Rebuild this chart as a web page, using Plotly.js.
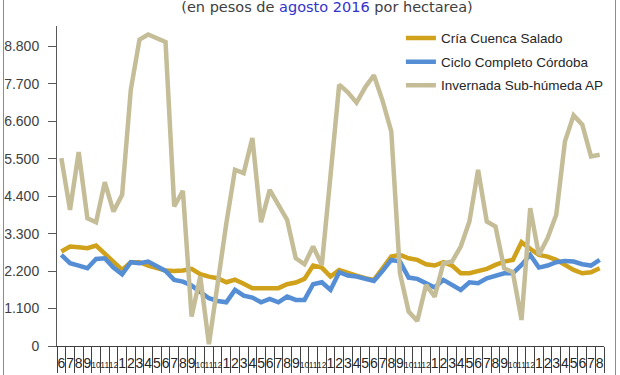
<!DOCTYPE html>
<html>
<head>
<meta charset="utf-8">
<script src="https://cdn.plot.ly/plotly-3.0.1.min.js"></script>
<style>
  html, body { margin: 0; padding: 0; background: #fff; overflow: hidden; }
  #chart { width: 620px; height: 375px; }
  #frame { position: absolute; left: 3px; top: -5px; width: 611px; height: 400px;
           border: 1px solid #8c8c8c; pointer-events: none; }
</style>
</head>
<body>
<div id="chart"></div>
<div id="frame"></div>
<script>
// Month labels (June 2011 .. August 2016)
const monthLabels = [
  "6","7","8","9","10","11","12",
  "1","2","3","4","5","6","7","8","9","10","11","12",
  "1","2","3","4","5","6","7","8","9","10","11","12",
  "1","2","3","4","5","6","7","8","9","10","11","12",
  "1","2","3","4","5","6","7","8","9","10","11","12",
  "1","2","3","4","5","6","7","8"
];

const criaCuencaSalado = [
  2775, 2922, 2902, 2873, 2951, 2700, 2480, 2235, 2461, 2461,
  2363, 2304, 2216, 2206, 2216, 2265, 2108, 2039, 1990, 1873,
  1950, 1830, 1700, 1700, 1716, 1700, 1814, 1863, 1971, 2363,
  2304, 2039, 2235, 2137, 2069, 1990, 1941, 2284, 2627, 2676,
  2578, 2529, 2402, 2363, 2461, 2363, 2137, 2137, 2186, 2265,
  2382, 2480, 2529, 3049, 2853, 2676, 2627, 2529, 2382, 2235,
  2137, 2167, 2284
];

const cicloCompletoCordoba = [
  2676, 2431, 2363, 2284, 2559, 2578, 2304, 2108, 2461, 2431,
  2480, 2333, 2206, 1941, 1892, 1775, 1598, 1402, 1324, 1284,
  1647, 1480, 1422, 1284, 1382, 1284, 1451, 1353, 1353, 1814,
  1873, 1647, 2167, 2069, 2039, 1990, 1912, 2206, 2529, 2480,
  2010, 1971, 1843, 1720, 1941, 1794, 1647, 1873, 1843, 1990,
  2069, 2137, 2137, 2382, 2676, 2304, 2363, 2461, 2500, 2480,
  2402, 2363, 2529
];

const invernadaSubhumedaAP = [
  5520, 4000, 5696, 3755, 3637, 4814, 3951, 4441, 7529, 9000,
  9150, 9049, 8931, 4098, 4559,  863, 2039,   50, 1850, 3600,
  5177, 5078, 6108, 3637, 4588, 4147, 3706, 2578, 2402, 2922,
  2382, 5000, 7676, 7450, 7150, 7600, 7951, 7200, 6304, 2137,
  1010,  735, 1794, 1451, 2431, 2480, 2922, 3657, 5177, 3657,
  3510, 2284, 2167,  765, 4049, 2676, 3167, 3853, 6010, 6775,
  6500, 5569, 5618
];

const yTickVals = [0, 1100, 2200, 3300, 4400, 5500, 6600, 7700, 8800];
const yTickText = ["0", "1.100", "2.200", "3.300", "4.400", "5.500", "6.600", "7.700", "8.800"];

const seriesNames = ["Cría Cuenca Salado", "Ciclo Completo Córdoba", "Invernada Sub-húmeda AP"];
const seriesColors = ["#D0A11A", "#558ED5", "#C4BD97"];

const idx = monthLabels.map((_, i) => i);
const boundaries = monthLabels.map((_, i) => i - 0.5).concat([monthLabels.length - 0.5]);
// two-digit month labels drawn smaller so they fit inside their cell
const xTickText = monthLabels.map(s => s.length > 1 ? "<span style='font-size:8.5px'>" + s + "</span>" : s);

const narrow = "'Liberation Sans Narrow', 'Liberation Sans', Arial, sans-serif";

const traces = [criaCuencaSalado, cicloCompletoCordoba, invernadaSubhumedaAP].map((vals, k) => ({
  type: "scatter",
  mode: "lines",
  x: idx,
  y: vals,
  name: seriesNames[k],
  legendgroup: "g" + k,
  line: { color: seriesColors[k], width: 4.5, shape: "linear" },
  hoverinfo: "skip"
}));

const layout = {
  width: 620,
  height: 375,
  paper_bgcolor: "#ffffff",
  plot_bgcolor: "#ffffff",
  margin: { l: 56.6, r: 14.6, t: 26.4, b: 29 },
  showlegend: true,
  title: {
    text: "(en pesos de <span style='color:#3333CC'>agosto 2016</span> por hectarea)",
    font: { family: "'DejaVu Sans', Verdana, sans-serif", size: 14.5, color: "#404040" },
    x: 327 / 620, xanchor: "center", xref: "container",
    y: 1 - 6.5 / 375, yanchor: "middle", yref: "container"
  },
  legend: {
    x: 0.6276, xanchor: "left",
    y: 1.01, yanchor: "top",
    bgcolor: "rgba(255,255,255,0)",
    font: { family: narrow, size: 13.5, color: "#262626" },
    traceorder: "grouped",
    tracegroupgap: 3
  },
  xaxis: {
    range: [-0.5, monthLabels.length - 0.5],
    tickmode: "array",
    tickvals: idx,
    ticktext: xTickText,
    tickangle: 0,
    ticks: "",
    showgrid: false,
    zeroline: false,
    showline: true,
    linecolor: "#404040",
    linewidth: 1,
    tickfont: { family: narrow, size: 14, color: "#262626" },
    ticklabelstandoff: 4,
    minor: {
      tickmode: "array",
      tickvals: boundaries,
      ticks: "outside",
      ticklen: 26,
      tickwidth: 1,
      tickcolor: "#404040",
      showgrid: false
    },
    fixedrange: true
  },
  yaxis: {
    range: [0, 9400],
    tickmode: "array",
    tickvals: yTickVals,
    ticktext: yTickText,
    ticks: "outside",
    ticklen: 8,
    tickwidth: 1,
    tickcolor: "#595959",
    showline: true,
    linecolor: "#595959",
    linewidth: 1,
    showgrid: false,
    zeroline: false,
    tickfont: { family: narrow, size: 14, color: "#404040" },
    ticklabelstandoff: 6,
    fixedrange: true
  }
};

Plotly.newPlot("chart", traces, layout, { displayModeBar: false, staticPlot: true });
</script>
</body>
</html>
